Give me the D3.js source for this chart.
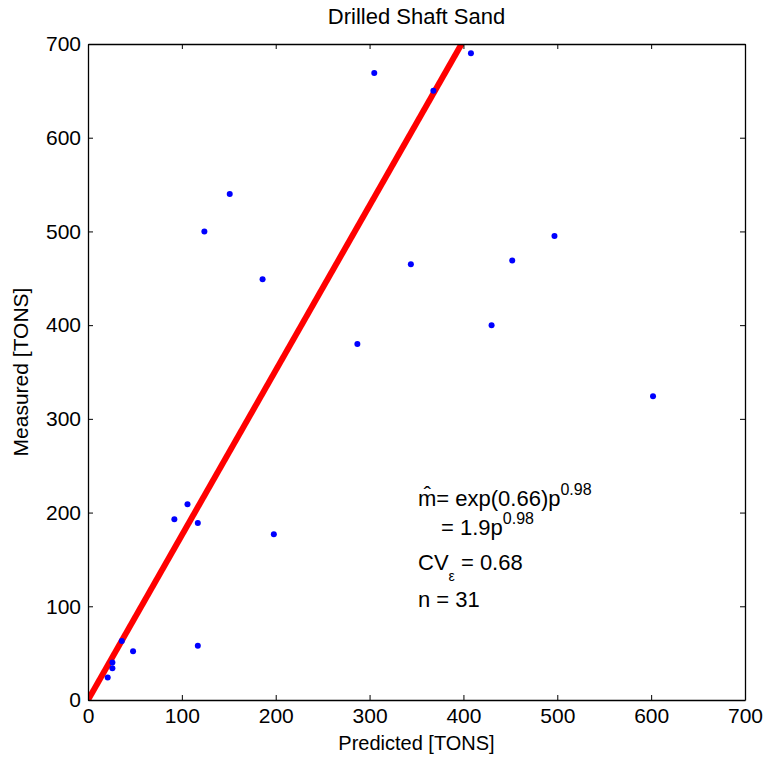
<!DOCTYPE html>
<html>
<head>
<meta charset="utf-8">
<script src="https://cdn.jsdelivr.net/npm/d3@7"></script>
<style>
  body { margin: 0; background: #fff; }
  text { font-family: "Liberation Sans", Arial, sans-serif; fill: #000; }
</style>
</head>
<body>
<div id="chart"></div>
<script>
// measured vs predicted capacity
const predicted = [21, 26, 26, 36, 48, 117, 92, 106, 117, 198, 124, 151, 186, 287, 305, 344, 368, 408, 430, 452, 497, 602];
const measured  = [24, 34, 40, 63, 52, 58, 193, 209, 189, 177, 500, 540, 449, 380, 669, 465, 650, 690, 400, 469, 495, 324];
const fitP = [0, 398];
const fitM = [0, 700];
const ticks = [0, 100, 200, 300, 400, 500, 600, 700];

const W = 765, H = 759;
const margin = { top: 44, right: 20, bottom: 59, left: 88 };
const w = W - margin.left - margin.right;
const h = H - margin.top - margin.bottom;

const svg = d3.select("#chart").append("svg")
    .attr("width", W).attr("height", H);

svg.append("defs").append("clipPath").attr("id", "clip")
    .append("rect").attr("width", w).attr("height", h);

const g = svg.append("g").attr("transform", `translate(${margin.left},${margin.top})`);

const x = d3.scaleLinear().domain([0, 700]).range([0, w]);
const y = d3.scaleLinear().domain([0, 700]).range([h, 0]);

// fitted line
const plot = g.append("g").attr("clip-path", "url(#clip)");
plot.append("path")
    .datum(fitP.map((p, i) => [p, fitM[i]]))
    .attr("d", d3.line().x(d => x(d[0])).y(d => y(d[1])))
    .style("fill", "none").style("stroke", "#ff0000").style("stroke-width", 6);

// data points
plot.selectAll(".pt")
    .data(predicted.map((p, i) => [p, measured[i]]))
    .enter().append("circle")
    .attr("class", "pt")
    .attr("r", 3)
    .attr("cx", d => x(d[0]))
    .attr("cy", d => y(d[1]))
    .style("fill", "#0000ff");

// axes, ticks inside on all four sides
const fmt = d3.format("d");
g.append("g").attr("transform", `translate(0,${h})`)
    .call(d3.axisBottom(x).tickValues(ticks).tickSizeInner(-5).tickSizeOuter(0).tickPadding(8).tickFormat(fmt));
g.append("g")
    .call(d3.axisLeft(y).tickValues(ticks).tickSizeInner(-5).tickSizeOuter(0).tickPadding(7).tickFormat(fmt));
g.append("g")
    .call(d3.axisTop(x).tickValues(ticks).tickSizeInner(-5).tickSizeOuter(0).tickFormat(""));
g.append("g").attr("transform", `translate(${w},0)`)
    .call(d3.axisRight(y).tickValues(ticks).tickSizeInner(-5).tickSizeOuter(0).tickFormat(""));

g.selectAll(".domain").style("stroke", "#000").style("stroke-width", 1.3);
g.selectAll(".tick line").style("stroke", "#000");
g.selectAll(".tick text").style("font-size", "21px")
    .style("font-family", "'Liberation Sans', Arial, sans-serif");

// titles
svg.append("text").attr("x", margin.left + w / 2).attr("y", 24)
    .attr("text-anchor", "middle").style("font-size", "22px").text("Drilled Shaft Sand");
svg.append("text").attr("x", margin.left + w / 2).attr("y", 750)
    .attr("text-anchor", "middle").style("font-size", "20px").text("Predicted [TONS]");
svg.append("text").attr("transform", `translate(28,${margin.top + h / 2}) rotate(-90)`)
    .attr("text-anchor", "middle").style("font-size", "21px").text("Measured [TONS]");

// annotation
const ann = svg.append("g").style("font-size", "22px");
const l1 = ann.append("text").attr("x", 418).attr("y", 506);
l1.append("tspan").text("m\u0302= exp(0.66)p");
l1.append("tspan").attr("dy", -11).style("font-size", "16px").text("0.98");

const l2 = ann.append("text").attr("x", 441).attr("y", 535);
l2.append("tspan").text("= 1.9p");
l2.append("tspan").attr("dy", -11).style("font-size", "16px").text("0.98");

const l3 = ann.append("text").attr("x", 418).attr("y", 570);
l3.append("tspan").text("CV");
l3.append("tspan").attr("dy", 11).style("font-size", "14px").text("ε");
l3.append("tspan").attr("dy", -11).text(" = 0.68");

ann.append("text").attr("x", 418).attr("y", 607).text("n = 31");
</script>
</body>
</html>
